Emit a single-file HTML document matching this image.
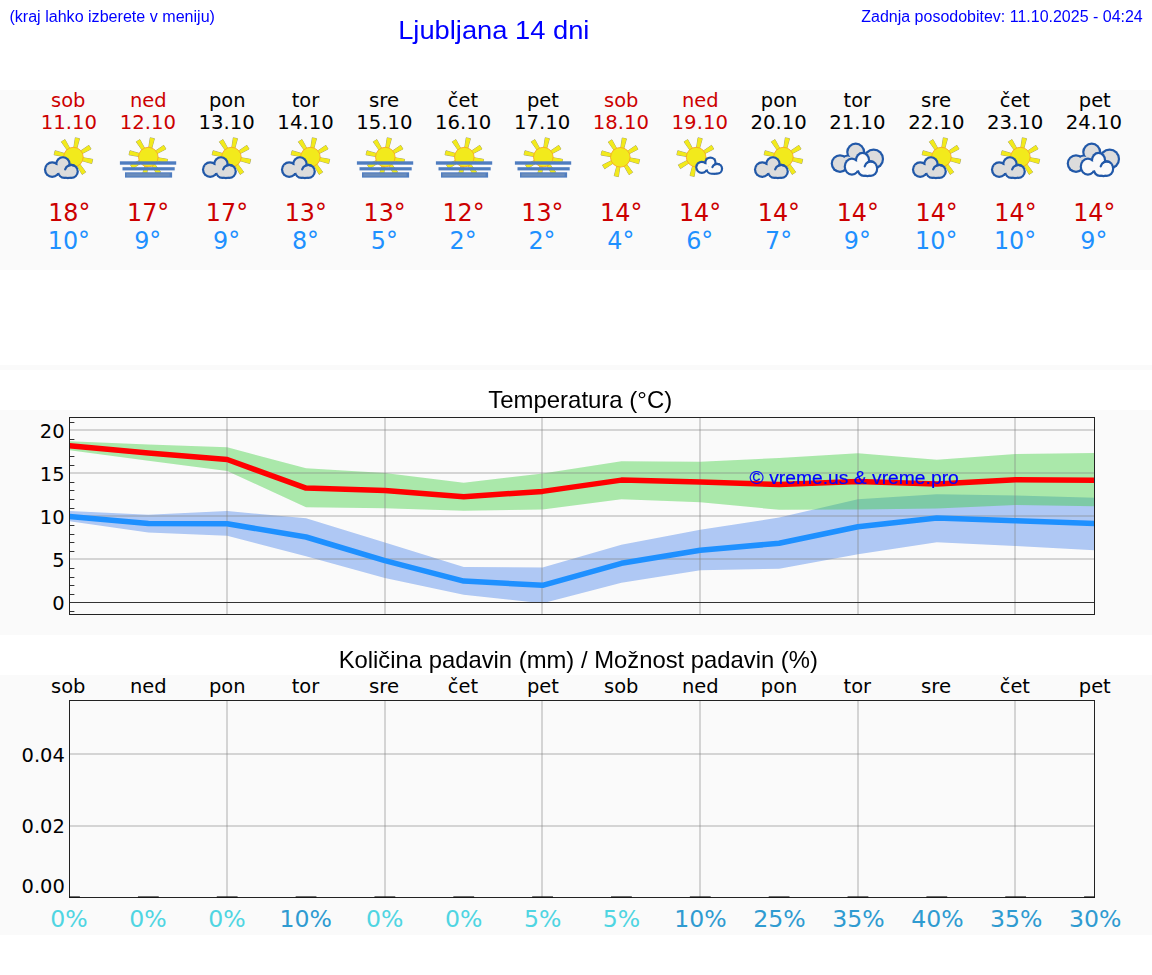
<!DOCTYPE html>
<html lang="sl">
<head>
<meta charset="utf-8">
<title>Ljubljana 14 dni</title>
<style>
html,body{margin:0;padding:0;background:#fff;}
body{width:1152px;height:975px;overflow:hidden;font-family:"Liberation Sans",sans-serif;}
svg{display:block;position:absolute;left:0;top:0;}
.dv{font-family:"DejaVu Sans","Liberation Sans",sans-serif;}
.dn{font-size:19.44px;}
.dt{font-size:18.76px;}
.tp{font-size:24.7px;}
.ax{font-size:18.76px;}
.pc{font-size:23.6px;}
</style>
</head>
<body>
<svg width="1152" height="975" viewBox="0 0 1152 975">
<rect x="0" y="90" width="1152" height="180" fill="#fafafa"/>
<rect x="0" y="365" width="1152" height="5" fill="#fafafa"/>
<rect x="0" y="410" width="1152" height="225" fill="#fafafa"/>
<rect x="0" y="675" width="1152" height="260" fill="#fafafa"/>
<g class="dv">
<text class="dn" x="51.02" y="107.00" fill="#cc0000" textLength="34.36" lengthAdjust="spacingAndGlyphs">sob</text>
<text class="dt" x="40.84" y="128.90" fill="#cc0000" textLength="56.32" lengthAdjust="spacingAndGlyphs">11.10</text>
<text class="tp" x="48.18" y="220.80" fill="#cc0000" textLength="42.25" lengthAdjust="spacingAndGlyphs">18°</text>
<text class="tp" x="47.78" y="249.00" fill="#1e90ff" textLength="42.25" lengthAdjust="spacingAndGlyphs">10°</text>
<text class="dn" x="130.04" y="107.00" fill="#cc0000" textLength="36.62" lengthAdjust="spacingAndGlyphs">ned</text>
<text class="dt" x="119.69" y="128.90" fill="#cc0000" textLength="56.32" lengthAdjust="spacingAndGlyphs">12.10</text>
<text class="tp" x="127.02" y="220.80" fill="#cc0000" textLength="42.25" lengthAdjust="spacingAndGlyphs">17°</text>
<text class="tp" x="134.20" y="249.00" fill="#1e90ff" textLength="27.08" lengthAdjust="spacingAndGlyphs">9°</text>
<text class="dn" x="208.92" y="107.00" fill="#000" textLength="36.55" lengthAdjust="spacingAndGlyphs">pon</text>
<text class="dt" x="198.53" y="128.90" fill="#000" textLength="56.32" lengthAdjust="spacingAndGlyphs">13.10</text>
<text class="tp" x="205.87" y="220.80" fill="#cc0000" textLength="42.25" lengthAdjust="spacingAndGlyphs">17°</text>
<text class="tp" x="213.05" y="249.00" fill="#1e90ff" textLength="27.08" lengthAdjust="spacingAndGlyphs">9°</text>
<text class="dn" x="291.68" y="107.00" fill="#000" textLength="27.51" lengthAdjust="spacingAndGlyphs">tor</text>
<text class="dt" x="277.38" y="128.90" fill="#000" textLength="56.32" lengthAdjust="spacingAndGlyphs">14.10</text>
<text class="tp" x="284.71" y="220.80" fill="#cc0000" textLength="42.25" lengthAdjust="spacingAndGlyphs">13°</text>
<text class="tp" x="291.90" y="249.00" fill="#1e90ff" textLength="27.08" lengthAdjust="spacingAndGlyphs">8°</text>
<text class="dn" x="369.06" y="107.00" fill="#000" textLength="30.08" lengthAdjust="spacingAndGlyphs">sre</text>
<text class="dt" x="356.22" y="128.90" fill="#000" textLength="56.32" lengthAdjust="spacingAndGlyphs">15.10</text>
<text class="tp" x="363.56" y="220.80" fill="#cc0000" textLength="42.25" lengthAdjust="spacingAndGlyphs">13°</text>
<text class="tp" x="370.74" y="249.00" fill="#1e90ff" textLength="27.08" lengthAdjust="spacingAndGlyphs">5°</text>
<text class="dn" x="447.80" y="107.00" fill="#000" textLength="30.27" lengthAdjust="spacingAndGlyphs">čet</text>
<text class="dt" x="435.07" y="128.90" fill="#000" textLength="56.32" lengthAdjust="spacingAndGlyphs">16.10</text>
<text class="tp" x="442.41" y="220.80" fill="#cc0000" textLength="42.25" lengthAdjust="spacingAndGlyphs">12°</text>
<text class="tp" x="449.59" y="249.00" fill="#1e90ff" textLength="27.08" lengthAdjust="spacingAndGlyphs">2°</text>
<text class="dn" x="526.92" y="107.00" fill="#000" textLength="31.92" lengthAdjust="spacingAndGlyphs">pet</text>
<text class="dt" x="513.92" y="128.90" fill="#000" textLength="56.32" lengthAdjust="spacingAndGlyphs">17.10</text>
<text class="tp" x="521.25" y="220.80" fill="#cc0000" textLength="42.25" lengthAdjust="spacingAndGlyphs">13°</text>
<text class="tp" x="528.44" y="249.00" fill="#1e90ff" textLength="27.08" lengthAdjust="spacingAndGlyphs">2°</text>
<text class="dn" x="604.04" y="107.00" fill="#cc0000" textLength="34.36" lengthAdjust="spacingAndGlyphs">sob</text>
<text class="dt" x="592.76" y="128.90" fill="#cc0000" textLength="56.32" lengthAdjust="spacingAndGlyphs">18.10</text>
<text class="tp" x="600.10" y="220.80" fill="#cc0000" textLength="42.25" lengthAdjust="spacingAndGlyphs">14°</text>
<text class="tp" x="607.28" y="249.00" fill="#1e90ff" textLength="27.08" lengthAdjust="spacingAndGlyphs">4°</text>
<text class="dn" x="681.96" y="107.00" fill="#cc0000" textLength="36.62" lengthAdjust="spacingAndGlyphs">ned</text>
<text class="dt" x="671.61" y="128.90" fill="#cc0000" textLength="56.32" lengthAdjust="spacingAndGlyphs">19.10</text>
<text class="tp" x="678.95" y="220.80" fill="#cc0000" textLength="42.25" lengthAdjust="spacingAndGlyphs">14°</text>
<text class="tp" x="686.13" y="249.00" fill="#1e90ff" textLength="27.08" lengthAdjust="spacingAndGlyphs">6°</text>
<text class="dn" x="760.84" y="107.00" fill="#000" textLength="36.55" lengthAdjust="spacingAndGlyphs">pon</text>
<text class="dt" x="750.46" y="128.90" fill="#000" textLength="56.32" lengthAdjust="spacingAndGlyphs">20.10</text>
<text class="tp" x="757.79" y="220.80" fill="#cc0000" textLength="42.25" lengthAdjust="spacingAndGlyphs">14°</text>
<text class="tp" x="764.97" y="249.00" fill="#1e90ff" textLength="27.08" lengthAdjust="spacingAndGlyphs">7°</text>
<text class="dn" x="843.61" y="107.00" fill="#000" textLength="27.51" lengthAdjust="spacingAndGlyphs">tor</text>
<text class="dt" x="829.30" y="128.90" fill="#000" textLength="56.32" lengthAdjust="spacingAndGlyphs">21.10</text>
<text class="tp" x="836.64" y="220.80" fill="#cc0000" textLength="42.25" lengthAdjust="spacingAndGlyphs">14°</text>
<text class="tp" x="843.82" y="249.00" fill="#1e90ff" textLength="27.08" lengthAdjust="spacingAndGlyphs">9°</text>
<text class="dn" x="920.98" y="107.00" fill="#000" textLength="30.08" lengthAdjust="spacingAndGlyphs">sre</text>
<text class="dt" x="908.15" y="128.90" fill="#000" textLength="56.32" lengthAdjust="spacingAndGlyphs">22.10</text>
<text class="tp" x="915.48" y="220.80" fill="#cc0000" textLength="42.25" lengthAdjust="spacingAndGlyphs">14°</text>
<text class="tp" x="915.08" y="249.00" fill="#1e90ff" textLength="42.25" lengthAdjust="spacingAndGlyphs">10°</text>
<text class="dn" x="999.72" y="107.00" fill="#000" textLength="30.27" lengthAdjust="spacingAndGlyphs">čet</text>
<text class="dt" x="986.99" y="128.90" fill="#000" textLength="56.32" lengthAdjust="spacingAndGlyphs">23.10</text>
<text class="tp" x="994.33" y="220.80" fill="#cc0000" textLength="42.25" lengthAdjust="spacingAndGlyphs">14°</text>
<text class="tp" x="993.93" y="249.00" fill="#1e90ff" textLength="42.25" lengthAdjust="spacingAndGlyphs">10°</text>
<text class="dn" x="1078.84" y="107.00" fill="#000" textLength="31.92" lengthAdjust="spacingAndGlyphs">pet</text>
<text class="dt" x="1065.84" y="128.90" fill="#000" textLength="56.32" lengthAdjust="spacingAndGlyphs">24.10</text>
<text class="tp" x="1073.18" y="220.80" fill="#cc0000" textLength="42.25" lengthAdjust="spacingAndGlyphs">14°</text>
<text class="tp" x="1080.36" y="249.00" fill="#1e90ff" textLength="27.08" lengthAdjust="spacingAndGlyphs">9°</text>
</g>
<path d="M76.79 148.62L79.52 138.67L75.31 137.77L73.76 147.97ZM81.91 153.79L91.05 149.00L88.84 145.32L80.32 151.14ZM81.82 160.63L91.72 163.54L92.69 159.35L82.52 157.61ZM77.00 165.49L82.11 174.46L85.71 172.12L79.60 163.80ZM70.01 165.58L67.28 175.53L71.49 176.43L73.04 166.23ZM64.83 160.26L55.61 164.89L57.76 168.61L66.38 162.94ZM64.98 153.57L55.08 150.66L54.11 154.85L64.28 156.59ZM69.95 148.65L65.00 139.59L61.35 141.87L67.32 150.29Z" fill="#f2ea1c" stroke="#8f8d6a" stroke-opacity="0.75" stroke-width="1.0" stroke-linejoin="round"/><path d="M76.79 148.62L79.52 138.67L75.31 137.77L73.76 147.97ZM81.91 153.79L91.05 149.00L88.84 145.32L80.32 151.14ZM81.82 160.63L91.72 163.54L92.69 159.35L82.52 157.61ZM77.00 165.49L82.11 174.46L85.71 172.12L79.60 163.80ZM70.01 165.58L67.28 175.53L71.49 176.43L73.04 166.23ZM64.83 160.26L55.61 164.89L57.76 168.61L66.38 162.94ZM64.98 153.57L55.08 150.66L54.11 154.85L64.28 156.59ZM69.95 148.65L65.00 139.59L61.35 141.87L67.32 150.29Z" fill="#f2ea1c"/><circle cx="73.40" cy="157.10" r="9.8" fill="#f2ea1c" stroke="#f7a823" stroke-width="0.9"/><ellipse cx="52.21" cy="169.60" rx="8.28" ry="8.28" fill="#2158a8"/><ellipse cx="62.95" cy="163.85" rx="7.71" ry="7.71" fill="#2158a8"/><ellipse cx="71.28" cy="171.40" rx="7.55" ry="7.55" fill="#2158a8"/><ellipse cx="64.39" cy="171.61" rx="7.42" ry="7.42" fill="#2158a8"/><ellipse cx="67.90" cy="172.10" rx="7.10" ry="7.10" fill="#2158a8"/><ellipse cx="57.50" cy="169.10" rx="6.10" ry="6.10" fill="#2158a8"/><ellipse cx="52.21" cy="169.60" rx="6.08" ry="6.08" fill="#dcdcdc"/><ellipse cx="62.95" cy="163.85" rx="5.51" ry="5.51" fill="#dcdcdc"/><ellipse cx="71.28" cy="171.40" rx="5.35" ry="5.35" fill="#dcdcdc"/><ellipse cx="64.39" cy="171.61" rx="5.22" ry="5.22" fill="#dcdcdc"/><ellipse cx="67.90" cy="172.10" rx="4.90" ry="4.90" fill="#dcdcdc"/><ellipse cx="57.50" cy="169.10" rx="3.90" ry="3.90" fill="#dcdcdc"/><path d="M73.70 165.42A6.45 6.45 0 0 0 65.15 169.41" fill="none" stroke="#2158a8" stroke-width="2.20" stroke-linecap="round"/>
<path d="M151.69 148.62L154.42 138.67L150.21 137.77L148.66 147.97ZM156.81 153.79L165.95 149.00L163.74 145.32L155.22 151.14ZM156.72 160.63L166.62 163.54L167.59 159.35L157.42 157.61ZM151.90 165.49L157.01 174.46L160.61 172.12L154.50 163.80ZM144.91 165.58L142.18 175.53L146.39 176.43L147.94 166.23ZM139.73 160.26L130.51 164.89L132.66 168.61L141.28 162.94ZM139.88 153.57L129.98 150.66L129.01 154.85L139.18 156.59ZM144.85 148.65L139.90 139.59L136.25 141.87L142.22 150.29Z" fill="#f2ea1c" stroke="#8f8d6a" stroke-opacity="0.75" stroke-width="1.0" stroke-linejoin="round"/><path d="M151.69 148.62L154.42 138.67L150.21 137.77L148.66 147.97ZM156.81 153.79L165.95 149.00L163.74 145.32L155.22 151.14ZM156.72 160.63L166.62 163.54L167.59 159.35L157.42 157.61ZM151.90 165.49L157.01 174.46L160.61 172.12L154.50 163.80ZM144.91 165.58L142.18 175.53L146.39 176.43L147.94 166.23ZM139.73 160.26L130.51 164.89L132.66 168.61L141.28 162.94ZM139.88 153.57L129.98 150.66L129.01 154.85L139.18 156.59ZM144.85 148.65L139.90 139.59L136.25 141.87L142.22 150.29Z" fill="#f2ea1c"/><circle cx="148.30" cy="157.10" r="9.8" fill="#f2ea1c" stroke="#f7a823" stroke-width="0.9"/><rect x="119.90" y="161.30" width="56.30" height="3.40" fill="#4f7dc0"/><rect x="122.50" y="167.20" width="52.20" height="3.20" fill="#4f7dc0"/><rect x="125.00" y="172.30" width="47.10" height="5.30" fill="#4f7dc0"/><rect x="126.45" y="173.40" width="43.20" height="3.00" fill="#6a8cbb"/>
<path d="M234.79 148.62L237.52 138.67L233.31 137.77L231.76 147.97ZM239.91 153.79L249.05 149.00L246.84 145.32L238.32 151.14ZM239.82 160.63L249.72 163.54L250.69 159.35L240.52 157.61ZM235.00 165.49L240.11 174.46L243.71 172.12L237.60 163.80ZM228.01 165.58L225.28 175.53L229.49 176.43L231.04 166.23ZM222.83 160.26L213.61 164.89L215.76 168.61L224.38 162.94ZM222.98 153.57L213.08 150.66L212.11 154.85L222.28 156.59ZM227.95 148.65L223.00 139.59L219.35 141.87L225.32 150.29Z" fill="#f2ea1c" stroke="#8f8d6a" stroke-opacity="0.75" stroke-width="1.0" stroke-linejoin="round"/><path d="M234.79 148.62L237.52 138.67L233.31 137.77L231.76 147.97ZM239.91 153.79L249.05 149.00L246.84 145.32L238.32 151.14ZM239.82 160.63L249.72 163.54L250.69 159.35L240.52 157.61ZM235.00 165.49L240.11 174.46L243.71 172.12L237.60 163.80ZM228.01 165.58L225.28 175.53L229.49 176.43L231.04 166.23ZM222.83 160.26L213.61 164.89L215.76 168.61L224.38 162.94ZM222.98 153.57L213.08 150.66L212.11 154.85L222.28 156.59ZM227.95 148.65L223.00 139.59L219.35 141.87L225.32 150.29Z" fill="#f2ea1c"/><circle cx="231.40" cy="157.10" r="9.8" fill="#f2ea1c" stroke="#f7a823" stroke-width="0.9"/><ellipse cx="210.21" cy="169.60" rx="8.28" ry="8.28" fill="#2158a8"/><ellipse cx="220.95" cy="163.85" rx="7.71" ry="7.71" fill="#2158a8"/><ellipse cx="229.28" cy="171.40" rx="7.55" ry="7.55" fill="#2158a8"/><ellipse cx="222.39" cy="171.61" rx="7.42" ry="7.42" fill="#2158a8"/><ellipse cx="225.90" cy="172.10" rx="7.10" ry="7.10" fill="#2158a8"/><ellipse cx="215.50" cy="169.10" rx="6.10" ry="6.10" fill="#2158a8"/><ellipse cx="210.21" cy="169.60" rx="6.08" ry="6.08" fill="#dcdcdc"/><ellipse cx="220.95" cy="163.85" rx="5.51" ry="5.51" fill="#dcdcdc"/><ellipse cx="229.28" cy="171.40" rx="5.35" ry="5.35" fill="#dcdcdc"/><ellipse cx="222.39" cy="171.61" rx="5.22" ry="5.22" fill="#dcdcdc"/><ellipse cx="225.90" cy="172.10" rx="4.90" ry="4.90" fill="#dcdcdc"/><ellipse cx="215.50" cy="169.10" rx="3.90" ry="3.90" fill="#dcdcdc"/><path d="M231.70 165.42A6.45 6.45 0 0 0 223.15 169.41" fill="none" stroke="#2158a8" stroke-width="2.20" stroke-linecap="round"/>
<path d="M313.79 148.62L316.52 138.67L312.31 137.77L310.76 147.97ZM318.91 153.79L328.05 149.00L325.84 145.32L317.32 151.14ZM318.82 160.63L328.72 163.54L329.69 159.35L319.52 157.61ZM314.00 165.49L319.11 174.46L322.71 172.12L316.60 163.80ZM307.01 165.58L304.28 175.53L308.49 176.43L310.04 166.23ZM301.83 160.26L292.61 164.89L294.76 168.61L303.38 162.94ZM301.98 153.57L292.08 150.66L291.11 154.85L301.28 156.59ZM306.95 148.65L302.00 139.59L298.35 141.87L304.32 150.29Z" fill="#f2ea1c" stroke="#8f8d6a" stroke-opacity="0.75" stroke-width="1.0" stroke-linejoin="round"/><path d="M313.79 148.62L316.52 138.67L312.31 137.77L310.76 147.97ZM318.91 153.79L328.05 149.00L325.84 145.32L317.32 151.14ZM318.82 160.63L328.72 163.54L329.69 159.35L319.52 157.61ZM314.00 165.49L319.11 174.46L322.71 172.12L316.60 163.80ZM307.01 165.58L304.28 175.53L308.49 176.43L310.04 166.23ZM301.83 160.26L292.61 164.89L294.76 168.61L303.38 162.94ZM301.98 153.57L292.08 150.66L291.11 154.85L301.28 156.59ZM306.95 148.65L302.00 139.59L298.35 141.87L304.32 150.29Z" fill="#f2ea1c"/><circle cx="310.40" cy="157.10" r="9.8" fill="#f2ea1c" stroke="#f7a823" stroke-width="0.9"/><ellipse cx="289.21" cy="169.60" rx="8.28" ry="8.28" fill="#2158a8"/><ellipse cx="299.95" cy="163.85" rx="7.71" ry="7.71" fill="#2158a8"/><ellipse cx="308.28" cy="171.40" rx="7.55" ry="7.55" fill="#2158a8"/><ellipse cx="301.39" cy="171.61" rx="7.42" ry="7.42" fill="#2158a8"/><ellipse cx="304.90" cy="172.10" rx="7.10" ry="7.10" fill="#2158a8"/><ellipse cx="294.50" cy="169.10" rx="6.10" ry="6.10" fill="#2158a8"/><ellipse cx="289.21" cy="169.60" rx="6.08" ry="6.08" fill="#dcdcdc"/><ellipse cx="299.95" cy="163.85" rx="5.51" ry="5.51" fill="#dcdcdc"/><ellipse cx="308.28" cy="171.40" rx="5.35" ry="5.35" fill="#dcdcdc"/><ellipse cx="301.39" cy="171.61" rx="5.22" ry="5.22" fill="#dcdcdc"/><ellipse cx="304.90" cy="172.10" rx="4.90" ry="4.90" fill="#dcdcdc"/><ellipse cx="294.50" cy="169.10" rx="3.90" ry="3.90" fill="#dcdcdc"/><path d="M310.70 165.42A6.45 6.45 0 0 0 302.15 169.41" fill="none" stroke="#2158a8" stroke-width="2.20" stroke-linecap="round"/>
<path d="M388.69 148.62L391.42 138.67L387.21 137.77L385.66 147.97ZM393.81 153.79L402.95 149.00L400.74 145.32L392.22 151.14ZM393.72 160.63L403.62 163.54L404.59 159.35L394.42 157.61ZM388.90 165.49L394.01 174.46L397.61 172.12L391.50 163.80ZM381.91 165.58L379.18 175.53L383.39 176.43L384.94 166.23ZM376.73 160.26L367.51 164.89L369.66 168.61L378.28 162.94ZM376.88 153.57L366.98 150.66L366.01 154.85L376.18 156.59ZM381.85 148.65L376.90 139.59L373.25 141.87L379.22 150.29Z" fill="#f2ea1c" stroke="#8f8d6a" stroke-opacity="0.75" stroke-width="1.0" stroke-linejoin="round"/><path d="M388.69 148.62L391.42 138.67L387.21 137.77L385.66 147.97ZM393.81 153.79L402.95 149.00L400.74 145.32L392.22 151.14ZM393.72 160.63L403.62 163.54L404.59 159.35L394.42 157.61ZM388.90 165.49L394.01 174.46L397.61 172.12L391.50 163.80ZM381.91 165.58L379.18 175.53L383.39 176.43L384.94 166.23ZM376.73 160.26L367.51 164.89L369.66 168.61L378.28 162.94ZM376.88 153.57L366.98 150.66L366.01 154.85L376.18 156.59ZM381.85 148.65L376.90 139.59L373.25 141.87L379.22 150.29Z" fill="#f2ea1c"/><circle cx="385.30" cy="157.10" r="9.8" fill="#f2ea1c" stroke="#f7a823" stroke-width="0.9"/><rect x="356.90" y="161.30" width="56.30" height="3.40" fill="#4f7dc0"/><rect x="359.50" y="167.20" width="52.20" height="3.20" fill="#4f7dc0"/><rect x="362.00" y="172.30" width="47.10" height="5.30" fill="#4f7dc0"/><rect x="363.45" y="173.40" width="43.20" height="3.00" fill="#6a8cbb"/>
<path d="M467.69 148.62L470.42 138.67L466.21 137.77L464.66 147.97ZM472.81 153.79L481.95 149.00L479.74 145.32L471.22 151.14ZM472.72 160.63L482.62 163.54L483.59 159.35L473.42 157.61ZM467.90 165.49L473.01 174.46L476.61 172.12L470.50 163.80ZM460.91 165.58L458.18 175.53L462.39 176.43L463.94 166.23ZM455.73 160.26L446.51 164.89L448.66 168.61L457.28 162.94ZM455.88 153.57L445.98 150.66L445.01 154.85L455.18 156.59ZM460.85 148.65L455.90 139.59L452.25 141.87L458.22 150.29Z" fill="#f2ea1c" stroke="#8f8d6a" stroke-opacity="0.75" stroke-width="1.0" stroke-linejoin="round"/><path d="M467.69 148.62L470.42 138.67L466.21 137.77L464.66 147.97ZM472.81 153.79L481.95 149.00L479.74 145.32L471.22 151.14ZM472.72 160.63L482.62 163.54L483.59 159.35L473.42 157.61ZM467.90 165.49L473.01 174.46L476.61 172.12L470.50 163.80ZM460.91 165.58L458.18 175.53L462.39 176.43L463.94 166.23ZM455.73 160.26L446.51 164.89L448.66 168.61L457.28 162.94ZM455.88 153.57L445.98 150.66L445.01 154.85L455.18 156.59ZM460.85 148.65L455.90 139.59L452.25 141.87L458.22 150.29Z" fill="#f2ea1c"/><circle cx="464.30" cy="157.10" r="9.8" fill="#f2ea1c" stroke="#f7a823" stroke-width="0.9"/><rect x="435.90" y="161.30" width="56.30" height="3.40" fill="#4f7dc0"/><rect x="438.50" y="167.20" width="52.20" height="3.20" fill="#4f7dc0"/><rect x="441.00" y="172.30" width="47.10" height="5.30" fill="#4f7dc0"/><rect x="442.45" y="173.40" width="43.20" height="3.00" fill="#6a8cbb"/>
<path d="M546.69 148.62L549.42 138.67L545.21 137.77L543.66 147.97ZM551.81 153.79L560.95 149.00L558.74 145.32L550.22 151.14ZM551.72 160.63L561.62 163.54L562.59 159.35L552.42 157.61ZM546.90 165.49L552.01 174.46L555.61 172.12L549.50 163.80ZM539.91 165.58L537.18 175.53L541.39 176.43L542.94 166.23ZM534.73 160.26L525.51 164.89L527.66 168.61L536.28 162.94ZM534.88 153.57L524.98 150.66L524.01 154.85L534.18 156.59ZM539.85 148.65L534.90 139.59L531.25 141.87L537.22 150.29Z" fill="#f2ea1c" stroke="#8f8d6a" stroke-opacity="0.75" stroke-width="1.0" stroke-linejoin="round"/><path d="M546.69 148.62L549.42 138.67L545.21 137.77L543.66 147.97ZM551.81 153.79L560.95 149.00L558.74 145.32L550.22 151.14ZM551.72 160.63L561.62 163.54L562.59 159.35L552.42 157.61ZM546.90 165.49L552.01 174.46L555.61 172.12L549.50 163.80ZM539.91 165.58L537.18 175.53L541.39 176.43L542.94 166.23ZM534.73 160.26L525.51 164.89L527.66 168.61L536.28 162.94ZM534.88 153.57L524.98 150.66L524.01 154.85L534.18 156.59ZM539.85 148.65L534.90 139.59L531.25 141.87L537.22 150.29Z" fill="#f2ea1c"/><circle cx="543.30" cy="157.10" r="9.8" fill="#f2ea1c" stroke="#f7a823" stroke-width="0.9"/><rect x="514.90" y="161.30" width="56.30" height="3.40" fill="#4f7dc0"/><rect x="517.50" y="167.20" width="52.20" height="3.20" fill="#4f7dc0"/><rect x="520.00" y="172.30" width="47.10" height="5.30" fill="#4f7dc0"/><rect x="521.45" y="173.40" width="43.20" height="3.00" fill="#6a8cbb"/>
<path d="M623.71 148.82L626.44 138.87L622.23 137.97L620.68 148.17ZM628.83 153.99L637.97 149.20L635.76 145.52L627.24 151.34ZM628.74 160.83L638.64 163.74L639.61 159.55L629.44 157.81ZM623.92 165.69L629.03 174.66L632.63 172.32L626.52 164.00ZM616.93 165.78L614.20 175.73L618.41 176.63L619.96 166.43ZM611.75 160.46L602.53 165.09L604.68 168.81L613.30 163.14ZM611.90 153.77L602.00 150.86L601.03 155.05L611.20 156.79ZM616.87 148.85L611.92 139.79L608.27 142.07L614.24 150.49Z" fill="#f2ea1c" stroke="#8f8d6a" stroke-opacity="0.75" stroke-width="1.0" stroke-linejoin="round"/><path d="M623.71 148.82L626.44 138.87L622.23 137.97L620.68 148.17ZM628.83 153.99L637.97 149.20L635.76 145.52L627.24 151.34ZM628.74 160.83L638.64 163.74L639.61 159.55L629.44 157.81ZM623.92 165.69L629.03 174.66L632.63 172.32L626.52 164.00ZM616.93 165.78L614.20 175.73L618.41 176.63L619.96 166.43ZM611.75 160.46L602.53 165.09L604.68 168.81L613.30 163.14ZM611.90 153.77L602.00 150.86L601.03 155.05L611.20 156.79ZM616.87 148.85L611.92 139.79L608.27 142.07L614.24 150.49Z" fill="#f2ea1c"/><circle cx="620.32" cy="157.30" r="9.8" fill="#f2ea1c" stroke="#f7a823" stroke-width="0.9"/>
<path d="M699.51 148.62L702.24 138.67L698.03 137.77L696.48 147.97ZM704.63 153.79L713.77 149.00L711.56 145.32L703.04 151.14ZM704.54 160.63L714.44 163.54L715.41 159.35L705.24 157.61ZM692.73 165.58L690.00 175.53L694.21 176.43L695.76 166.23ZM687.55 160.26L678.33 164.89L680.48 168.61L689.10 162.94ZM687.70 153.57L677.80 150.66L676.83 154.85L687.00 156.59ZM692.67 148.65L687.72 139.59L684.07 141.87L690.04 150.29Z" fill="#f2ea1c" stroke="#8f8d6a" stroke-opacity="0.75" stroke-width="1.0" stroke-linejoin="round"/><path d="M699.51 148.62L702.24 138.67L698.03 137.77L696.48 147.97ZM704.63 153.79L713.77 149.00L711.56 145.32L703.04 151.14ZM704.54 160.63L714.44 163.54L715.41 159.35L705.24 157.61ZM692.73 165.58L690.00 175.53L694.21 176.43L695.76 166.23ZM687.55 160.26L678.33 164.89L680.48 168.61L689.10 162.94ZM687.70 153.57L677.80 150.66L676.83 154.85L687.00 156.59ZM692.67 148.65L687.72 139.59L684.07 141.87L690.04 150.29Z" fill="#f2ea1c"/><circle cx="696.12" cy="157.10" r="9.8" fill="#f2ea1c" stroke="#f7a823" stroke-width="0.9"/><ellipse cx="701.84" cy="167.30" rx="6.62" ry="6.62" fill="#2158a8"/><ellipse cx="710.43" cy="162.70" rx="6.17" ry="6.17" fill="#2158a8"/><ellipse cx="717.09" cy="168.74" rx="6.04" ry="6.04" fill="#2158a8"/><ellipse cx="711.58" cy="168.91" rx="5.94" ry="5.94" fill="#2158a8"/><ellipse cx="714.39" cy="169.30" rx="5.68" ry="5.68" fill="#2158a8"/><ellipse cx="706.07" cy="166.90" rx="4.88" ry="4.88" fill="#2158a8"/><ellipse cx="701.84" cy="167.30" rx="4.42" ry="4.42" fill="#fafafa"/><ellipse cx="710.43" cy="162.70" rx="3.97" ry="3.97" fill="#fafafa"/><ellipse cx="717.09" cy="168.74" rx="3.84" ry="3.84" fill="#fafafa"/><ellipse cx="711.58" cy="168.91" rx="3.74" ry="3.74" fill="#fafafa"/><ellipse cx="714.39" cy="169.30" rx="3.48" ry="3.48" fill="#fafafa"/><ellipse cx="706.07" cy="166.90" rx="2.68" ry="2.68" fill="#fafafa"/><path d="M718.94 164.16A4.94 4.94 0 0 0 712.40 167.21" fill="none" stroke="#2158a8" stroke-width="2.20" stroke-linecap="round"/>
<path d="M786.79 148.62L789.52 138.67L785.31 137.77L783.76 147.97ZM791.91 153.79L801.05 149.00L798.84 145.32L790.32 151.14ZM791.82 160.63L801.72 163.54L802.69 159.35L792.52 157.61ZM787.00 165.49L792.11 174.46L795.71 172.12L789.60 163.80ZM780.01 165.58L777.28 175.53L781.49 176.43L783.04 166.23ZM774.83 160.26L765.61 164.89L767.76 168.61L776.38 162.94ZM774.98 153.57L765.08 150.66L764.11 154.85L774.28 156.59ZM779.95 148.65L775.00 139.59L771.35 141.87L777.32 150.29Z" fill="#f2ea1c" stroke="#8f8d6a" stroke-opacity="0.75" stroke-width="1.0" stroke-linejoin="round"/><path d="M786.79 148.62L789.52 138.67L785.31 137.77L783.76 147.97ZM791.91 153.79L801.05 149.00L798.84 145.32L790.32 151.14ZM791.82 160.63L801.72 163.54L802.69 159.35L792.52 157.61ZM787.00 165.49L792.11 174.46L795.71 172.12L789.60 163.80ZM780.01 165.58L777.28 175.53L781.49 176.43L783.04 166.23ZM774.83 160.26L765.61 164.89L767.76 168.61L776.38 162.94ZM774.98 153.57L765.08 150.66L764.11 154.85L774.28 156.59ZM779.95 148.65L775.00 139.59L771.35 141.87L777.32 150.29Z" fill="#f2ea1c"/><circle cx="783.40" cy="157.10" r="9.8" fill="#f2ea1c" stroke="#f7a823" stroke-width="0.9"/><ellipse cx="762.21" cy="169.60" rx="8.28" ry="8.28" fill="#2158a8"/><ellipse cx="772.95" cy="163.85" rx="7.71" ry="7.71" fill="#2158a8"/><ellipse cx="781.28" cy="171.40" rx="7.55" ry="7.55" fill="#2158a8"/><ellipse cx="774.39" cy="171.61" rx="7.42" ry="7.42" fill="#2158a8"/><ellipse cx="777.90" cy="172.10" rx="7.10" ry="7.10" fill="#2158a8"/><ellipse cx="767.50" cy="169.10" rx="6.10" ry="6.10" fill="#2158a8"/><ellipse cx="762.21" cy="169.60" rx="6.08" ry="6.08" fill="#dcdcdc"/><ellipse cx="772.95" cy="163.85" rx="5.51" ry="5.51" fill="#dcdcdc"/><ellipse cx="781.28" cy="171.40" rx="5.35" ry="5.35" fill="#dcdcdc"/><ellipse cx="774.39" cy="171.61" rx="5.22" ry="5.22" fill="#dcdcdc"/><ellipse cx="777.90" cy="172.10" rx="4.90" ry="4.90" fill="#dcdcdc"/><ellipse cx="767.50" cy="169.10" rx="3.90" ry="3.90" fill="#dcdcdc"/><path d="M783.70 165.42A6.45 6.45 0 0 0 775.15 169.41" fill="none" stroke="#2158a8" stroke-width="2.20" stroke-linecap="round"/>
<ellipse cx="840.02" cy="163.60" rx="9.30" ry="9.30" fill="#2158a8"/><ellipse cx="855.70" cy="152.10" rx="9.50" ry="9.50" fill="#2158a8"/><ellipse cx="873.62" cy="159.00" rx="10.45" ry="10.45" fill="#2158a8"/><ellipse cx="855.96" cy="163.00" rx="9.10" ry="9.10" fill="#2158a8"/><ellipse cx="865.96" cy="163.00" rx="9.10" ry="9.10" fill="#2158a8"/><ellipse cx="847.96" cy="163.00" rx="8.60" ry="8.60" fill="#2158a8"/><ellipse cx="840.02" cy="163.60" rx="7.10" ry="7.10" fill="#dcdcdc"/><ellipse cx="855.70" cy="152.10" rx="7.30" ry="7.30" fill="#dcdcdc"/><ellipse cx="873.62" cy="159.00" rx="8.25" ry="8.25" fill="#dcdcdc"/><ellipse cx="855.96" cy="163.00" rx="6.90" ry="6.90" fill="#dcdcdc"/><ellipse cx="865.96" cy="163.00" rx="6.90" ry="6.90" fill="#dcdcdc"/><ellipse cx="847.96" cy="163.00" rx="6.40" ry="6.40" fill="#dcdcdc"/><ellipse cx="851.89" cy="166.65" rx="8.20" ry="9.11" fill="#2158a8"/><ellipse cx="862.52" cy="160.33" rx="7.63" ry="8.48" fill="#2158a8"/><ellipse cx="870.77" cy="168.63" rx="7.47" ry="8.31" fill="#2158a8"/><ellipse cx="863.95" cy="168.86" rx="7.35" ry="8.16" fill="#2158a8"/><ellipse cx="867.42" cy="169.40" rx="7.03" ry="7.81" fill="#2158a8"/><ellipse cx="857.12" cy="166.10" rx="6.04" ry="6.71" fill="#2158a8"/><ellipse cx="851.89" cy="166.65" rx="6.00" ry="6.91" fill="#fafafa"/><ellipse cx="862.52" cy="160.33" rx="5.43" ry="6.28" fill="#fafafa"/><ellipse cx="870.77" cy="168.63" rx="5.27" ry="6.11" fill="#fafafa"/><ellipse cx="863.95" cy="168.86" rx="5.15" ry="5.96" fill="#fafafa"/><ellipse cx="867.42" cy="169.40" rx="4.83" ry="5.61" fill="#fafafa"/><ellipse cx="857.12" cy="166.10" rx="3.84" ry="4.51" fill="#fafafa"/><path d="M873.16 161.95A6.37 7.21 0 0 0 864.70 166.40" fill="none" stroke="#2158a8" stroke-width="2.20" stroke-linecap="round"/>
<path d="M944.79 148.62L947.52 138.67L943.31 137.77L941.76 147.97ZM949.91 153.79L959.05 149.00L956.84 145.32L948.32 151.14ZM949.82 160.63L959.72 163.54L960.69 159.35L950.52 157.61ZM945.00 165.49L950.11 174.46L953.71 172.12L947.60 163.80ZM938.01 165.58L935.28 175.53L939.49 176.43L941.04 166.23ZM932.83 160.26L923.61 164.89L925.76 168.61L934.38 162.94ZM932.98 153.57L923.08 150.66L922.11 154.85L932.28 156.59ZM937.95 148.65L933.00 139.59L929.35 141.87L935.32 150.29Z" fill="#f2ea1c" stroke="#8f8d6a" stroke-opacity="0.75" stroke-width="1.0" stroke-linejoin="round"/><path d="M944.79 148.62L947.52 138.67L943.31 137.77L941.76 147.97ZM949.91 153.79L959.05 149.00L956.84 145.32L948.32 151.14ZM949.82 160.63L959.72 163.54L960.69 159.35L950.52 157.61ZM945.00 165.49L950.11 174.46L953.71 172.12L947.60 163.80ZM938.01 165.58L935.28 175.53L939.49 176.43L941.04 166.23ZM932.83 160.26L923.61 164.89L925.76 168.61L934.38 162.94ZM932.98 153.57L923.08 150.66L922.11 154.85L932.28 156.59ZM937.95 148.65L933.00 139.59L929.35 141.87L935.32 150.29Z" fill="#f2ea1c"/><circle cx="941.40" cy="157.10" r="9.8" fill="#f2ea1c" stroke="#f7a823" stroke-width="0.9"/><ellipse cx="920.21" cy="169.60" rx="8.28" ry="8.28" fill="#2158a8"/><ellipse cx="930.95" cy="163.85" rx="7.71" ry="7.71" fill="#2158a8"/><ellipse cx="939.28" cy="171.40" rx="7.55" ry="7.55" fill="#2158a8"/><ellipse cx="932.39" cy="171.61" rx="7.42" ry="7.42" fill="#2158a8"/><ellipse cx="935.90" cy="172.10" rx="7.10" ry="7.10" fill="#2158a8"/><ellipse cx="925.50" cy="169.10" rx="6.10" ry="6.10" fill="#2158a8"/><ellipse cx="920.21" cy="169.60" rx="6.08" ry="6.08" fill="#dcdcdc"/><ellipse cx="930.95" cy="163.85" rx="5.51" ry="5.51" fill="#dcdcdc"/><ellipse cx="939.28" cy="171.40" rx="5.35" ry="5.35" fill="#dcdcdc"/><ellipse cx="932.39" cy="171.61" rx="5.22" ry="5.22" fill="#dcdcdc"/><ellipse cx="935.90" cy="172.10" rx="4.90" ry="4.90" fill="#dcdcdc"/><ellipse cx="925.50" cy="169.10" rx="3.90" ry="3.90" fill="#dcdcdc"/><path d="M941.70 165.42A6.45 6.45 0 0 0 933.15 169.41" fill="none" stroke="#2158a8" stroke-width="2.20" stroke-linecap="round"/>
<path d="M1023.79 148.62L1026.52 138.67L1022.31 137.77L1020.76 147.97ZM1028.91 153.79L1038.05 149.00L1035.84 145.32L1027.32 151.14ZM1028.82 160.63L1038.72 163.54L1039.69 159.35L1029.52 157.61ZM1024.00 165.49L1029.11 174.46L1032.71 172.12L1026.60 163.80ZM1017.01 165.58L1014.28 175.53L1018.49 176.43L1020.04 166.23ZM1011.83 160.26L1002.61 164.89L1004.76 168.61L1013.38 162.94ZM1011.98 153.57L1002.08 150.66L1001.11 154.85L1011.28 156.59ZM1016.95 148.65L1012.00 139.59L1008.35 141.87L1014.32 150.29Z" fill="#f2ea1c" stroke="#8f8d6a" stroke-opacity="0.75" stroke-width="1.0" stroke-linejoin="round"/><path d="M1023.79 148.62L1026.52 138.67L1022.31 137.77L1020.76 147.97ZM1028.91 153.79L1038.05 149.00L1035.84 145.32L1027.32 151.14ZM1028.82 160.63L1038.72 163.54L1039.69 159.35L1029.52 157.61ZM1024.00 165.49L1029.11 174.46L1032.71 172.12L1026.60 163.80ZM1017.01 165.58L1014.28 175.53L1018.49 176.43L1020.04 166.23ZM1011.83 160.26L1002.61 164.89L1004.76 168.61L1013.38 162.94ZM1011.98 153.57L1002.08 150.66L1001.11 154.85L1011.28 156.59ZM1016.95 148.65L1012.00 139.59L1008.35 141.87L1014.32 150.29Z" fill="#f2ea1c"/><circle cx="1020.40" cy="157.10" r="9.8" fill="#f2ea1c" stroke="#f7a823" stroke-width="0.9"/><ellipse cx="999.21" cy="169.60" rx="8.28" ry="8.28" fill="#2158a8"/><ellipse cx="1009.95" cy="163.85" rx="7.71" ry="7.71" fill="#2158a8"/><ellipse cx="1018.28" cy="171.40" rx="7.55" ry="7.55" fill="#2158a8"/><ellipse cx="1011.39" cy="171.61" rx="7.42" ry="7.42" fill="#2158a8"/><ellipse cx="1014.90" cy="172.10" rx="7.10" ry="7.10" fill="#2158a8"/><ellipse cx="1004.50" cy="169.10" rx="6.10" ry="6.10" fill="#2158a8"/><ellipse cx="999.21" cy="169.60" rx="6.08" ry="6.08" fill="#dcdcdc"/><ellipse cx="1009.95" cy="163.85" rx="5.51" ry="5.51" fill="#dcdcdc"/><ellipse cx="1018.28" cy="171.40" rx="5.35" ry="5.35" fill="#dcdcdc"/><ellipse cx="1011.39" cy="171.61" rx="5.22" ry="5.22" fill="#dcdcdc"/><ellipse cx="1014.90" cy="172.10" rx="4.90" ry="4.90" fill="#dcdcdc"/><ellipse cx="1004.50" cy="169.10" rx="3.90" ry="3.90" fill="#dcdcdc"/><path d="M1020.70 165.42A6.45 6.45 0 0 0 1012.15 169.41" fill="none" stroke="#2158a8" stroke-width="2.20" stroke-linecap="round"/>
<ellipse cx="1076.02" cy="163.60" rx="9.30" ry="9.30" fill="#2158a8"/><ellipse cx="1091.70" cy="152.10" rx="9.50" ry="9.50" fill="#2158a8"/><ellipse cx="1109.62" cy="159.00" rx="10.45" ry="10.45" fill="#2158a8"/><ellipse cx="1091.96" cy="163.00" rx="9.10" ry="9.10" fill="#2158a8"/><ellipse cx="1101.96" cy="163.00" rx="9.10" ry="9.10" fill="#2158a8"/><ellipse cx="1083.96" cy="163.00" rx="8.60" ry="8.60" fill="#2158a8"/><ellipse cx="1076.02" cy="163.60" rx="7.10" ry="7.10" fill="#dcdcdc"/><ellipse cx="1091.70" cy="152.10" rx="7.30" ry="7.30" fill="#dcdcdc"/><ellipse cx="1109.62" cy="159.00" rx="8.25" ry="8.25" fill="#dcdcdc"/><ellipse cx="1091.96" cy="163.00" rx="6.90" ry="6.90" fill="#dcdcdc"/><ellipse cx="1101.96" cy="163.00" rx="6.90" ry="6.90" fill="#dcdcdc"/><ellipse cx="1083.96" cy="163.00" rx="6.40" ry="6.40" fill="#dcdcdc"/><ellipse cx="1087.89" cy="166.65" rx="8.20" ry="9.11" fill="#2158a8"/><ellipse cx="1098.52" cy="160.33" rx="7.63" ry="8.48" fill="#2158a8"/><ellipse cx="1106.77" cy="168.63" rx="7.47" ry="8.31" fill="#2158a8"/><ellipse cx="1099.95" cy="168.86" rx="7.35" ry="8.16" fill="#2158a8"/><ellipse cx="1103.42" cy="169.40" rx="7.03" ry="7.81" fill="#2158a8"/><ellipse cx="1093.12" cy="166.10" rx="6.04" ry="6.71" fill="#2158a8"/><ellipse cx="1087.89" cy="166.65" rx="6.00" ry="6.91" fill="#fafafa"/><ellipse cx="1098.52" cy="160.33" rx="5.43" ry="6.28" fill="#fafafa"/><ellipse cx="1106.77" cy="168.63" rx="5.27" ry="6.11" fill="#fafafa"/><ellipse cx="1099.95" cy="168.86" rx="5.15" ry="5.96" fill="#fafafa"/><ellipse cx="1103.42" cy="169.40" rx="4.83" ry="5.61" fill="#fafafa"/><ellipse cx="1093.12" cy="166.10" rx="3.84" ry="4.51" fill="#fafafa"/><path d="M1109.16 161.95A6.37 7.21 0 0 0 1100.70 166.40" fill="none" stroke="#2158a8" stroke-width="2.20" stroke-linecap="round"/>
<clipPath id="ct"><rect x="69.5" y="417.5" width="1025.0" height="197.0"/></clipPath>
<g clip-path="url(#ct)">
<polygon points="69.50,511.10 148.35,514.70 227.19,511.00 306.04,518.30 384.88,542.50 463.73,567.00 542.58,567.40 621.42,544.70 700.27,529.80 779.12,517.60 857.96,499.20 936.81,494.30 1015.65,495.50 1094.50,497.70 1094.50,550.20 1015.65,545.90 936.81,542.30 857.96,554.20 779.12,568.70 700.27,570.30 621.42,582.70 542.58,603.20 463.73,594.70 384.88,578.00 306.04,556.30 227.19,535.80 148.35,532.50 69.50,521.30" fill="#6495ed" fill-opacity="0.5"/>
<polygon points="69.50,441.30 148.35,444.40 227.19,447.30 306.04,468.30 384.88,473.00 463.73,482.70 542.58,473.40 621.42,461.30 700.27,461.70 779.12,458.00 857.96,453.20 936.81,459.80 1015.65,454.00 1094.50,452.90 1094.50,506.30 1015.65,505.00 936.81,508.50 857.96,509.50 779.12,509.80 700.27,502.30 621.42,499.30 542.58,509.50 463.73,510.80 384.88,508.30 306.04,507.30 227.19,470.90 148.35,460.80 69.50,450.20" fill="#32cd32" fill-opacity="0.4"/>
<rect x="69.5" y="558" width="1025.0" height="2" fill="#808080" fill-opacity="0.31"/>
<rect x="69.5" y="515" width="1025.0" height="2" fill="#808080" fill-opacity="0.31"/>
<rect x="69.5" y="472" width="1025.0" height="2" fill="#808080" fill-opacity="0.31"/>
<rect x="69.5" y="429" width="1025.0" height="2" fill="#808080" fill-opacity="0.31"/>
<rect x="226" y="417.5" width="2" height="197.0" fill="#808080" fill-opacity="0.31"/>
<rect x="384" y="417.5" width="2" height="197.0" fill="#808080" fill-opacity="0.31"/>
<rect x="541" y="417.5" width="2" height="197.0" fill="#808080" fill-opacity="0.31"/>
<rect x="699" y="417.5" width="2" height="197.0" fill="#808080" fill-opacity="0.31"/>
<rect x="857" y="417.5" width="2" height="197.0" fill="#808080" fill-opacity="0.31"/>
<rect x="1014" y="417.5" width="2" height="197.0" fill="#808080" fill-opacity="0.31"/>
<rect x="69.5" y="602" width="1025.0" height="1" fill="#333"/>
<rect x="69.5" y="611" width="4.9" height="1" fill="#333"/>
<rect x="69.5" y="594" width="4.9" height="1" fill="#333"/>
<rect x="69.5" y="585" width="4.9" height="1" fill="#333"/>
<rect x="69.5" y="577" width="4.9" height="1" fill="#333"/>
<rect x="69.5" y="568" width="4.9" height="1" fill="#333"/>
<rect x="69.5" y="551" width="4.9" height="1" fill="#333"/>
<rect x="69.5" y="542" width="4.9" height="1" fill="#333"/>
<rect x="69.5" y="534" width="4.9" height="1" fill="#333"/>
<rect x="69.5" y="525" width="4.9" height="1" fill="#333"/>
<rect x="69.5" y="508" width="4.9" height="1" fill="#333"/>
<rect x="69.5" y="499" width="4.9" height="1" fill="#333"/>
<rect x="69.5" y="490" width="4.9" height="1" fill="#333"/>
<rect x="69.5" y="482" width="4.9" height="1" fill="#333"/>
<rect x="69.5" y="465" width="4.9" height="1" fill="#333"/>
<rect x="69.5" y="456" width="4.9" height="1" fill="#333"/>
<rect x="69.5" y="447" width="4.9" height="1" fill="#333"/>
<rect x="69.5" y="439" width="4.9" height="1" fill="#333"/>
<rect x="69.5" y="422" width="4.9" height="1" fill="#333"/>
<polyline points="69.50,516.60 148.35,523.60 227.19,523.80 306.04,537.00 384.88,560.70 463.73,581.10 542.58,585.30 621.42,563.30 700.27,550.20 779.12,543.30 857.96,526.80 936.81,517.90 1015.65,520.70 1094.50,523.50" fill="none" stroke="#1e90ff" stroke-width="5.5" stroke-linejoin="round"/>
<polyline points="69.50,445.80 148.35,453.00 227.19,459.50 306.04,488.10 384.88,490.40 463.73,496.70 542.58,491.40 621.42,480.10 700.27,481.90 779.12,484.50 857.96,481.40 936.81,484.10 1015.65,479.80 1094.50,480.30" fill="none" stroke="#ff0000" stroke-width="5.5" stroke-linejoin="round"/>
</g>
<rect x="69.5" y="417.5" width="1025.0" height="197.0" fill="none" stroke="#222" stroke-width="1"/>
<g class="dv ax" fill="#000">
<text x="52.23" y="610.10" textLength="12.37" lengthAdjust="spacingAndGlyphs">0</text>
<text x="52.23" y="567.00" textLength="12.37" lengthAdjust="spacingAndGlyphs">5</text>
<text x="39.86" y="523.90" textLength="24.74" lengthAdjust="spacingAndGlyphs">10</text>
<text x="39.86" y="480.80" textLength="24.74" lengthAdjust="spacingAndGlyphs">15</text>
<text x="39.86" y="437.70" textLength="24.74" lengthAdjust="spacingAndGlyphs">20</text>
</g>
<rect x="69.5" y="825" width="1025.0" height="2" fill="#808080" fill-opacity="0.31"/>
<rect x="69.5" y="753" width="1025.0" height="2" fill="#808080" fill-opacity="0.31"/>
<rect x="226" y="700.5" width="2" height="197.0" fill="#808080" fill-opacity="0.31"/>
<rect x="384" y="700.5" width="2" height="197.0" fill="#808080" fill-opacity="0.31"/>
<rect x="541" y="700.5" width="2" height="197.0" fill="#808080" fill-opacity="0.31"/>
<rect x="699" y="700.5" width="2" height="197.0" fill="#808080" fill-opacity="0.31"/>
<rect x="857" y="700.5" width="2" height="197.0" fill="#808080" fill-opacity="0.31"/>
<rect x="1014" y="700.5" width="2" height="197.0" fill="#808080" fill-opacity="0.31"/>
<rect x="69.5" y="700.5" width="1025.0" height="197.0" fill="none" stroke="#222" stroke-width="1"/>
<rect x="69.00" y="896.4" width="10.90" height="1.6" fill="#151515"/>
<rect x="137.95" y="896.4" width="20.80" height="1.6" fill="#151515"/>
<rect x="216.79" y="896.4" width="20.80" height="1.6" fill="#151515"/>
<rect x="295.64" y="896.4" width="20.80" height="1.6" fill="#151515"/>
<rect x="374.48" y="896.4" width="20.80" height="1.6" fill="#151515"/>
<rect x="453.33" y="896.4" width="20.80" height="1.6" fill="#151515"/>
<rect x="532.18" y="896.4" width="20.80" height="1.6" fill="#151515"/>
<rect x="611.02" y="896.4" width="20.80" height="1.6" fill="#151515"/>
<rect x="689.87" y="896.4" width="20.80" height="1.6" fill="#151515"/>
<rect x="768.72" y="896.4" width="20.80" height="1.6" fill="#151515"/>
<rect x="847.56" y="896.4" width="20.80" height="1.6" fill="#151515"/>
<rect x="926.41" y="896.4" width="20.80" height="1.6" fill="#151515"/>
<rect x="1005.25" y="896.4" width="20.80" height="1.6" fill="#151515"/>
<rect x="1084.10" y="896.4" width="10.90" height="1.6" fill="#151515"/>
<g class="dv ax" fill="#000">
<text x="21.52" y="761.80" textLength="43.28" lengthAdjust="spacingAndGlyphs">0.04</text>
<text x="21.52" y="833.10" textLength="43.28" lengthAdjust="spacingAndGlyphs">0.02</text>
<text x="21.52" y="892.80" textLength="43.28" lengthAdjust="spacingAndGlyphs">0.00</text>
</g>
<g class="dv">
<text class="dn" x="51.02" y="692.80" fill="#000" textLength="34.36" lengthAdjust="spacingAndGlyphs">sob</text>
<text class="pc" x="50.28" y="926.90" fill="#4fd5e2" textLength="37.44" lengthAdjust="spacingAndGlyphs">0%</text>
<text class="dn" x="130.04" y="692.80" fill="#000" textLength="36.62" lengthAdjust="spacingAndGlyphs">ned</text>
<text class="pc" x="129.22" y="926.90" fill="#4fd5e2" textLength="37.44" lengthAdjust="spacingAndGlyphs">0%</text>
<text class="dn" x="208.92" y="692.80" fill="#000" textLength="36.55" lengthAdjust="spacingAndGlyphs">pon</text>
<text class="pc" x="208.16" y="926.90" fill="#4fd5e2" textLength="37.44" lengthAdjust="spacingAndGlyphs">0%</text>
<text class="dn" x="291.68" y="692.80" fill="#000" textLength="27.51" lengthAdjust="spacingAndGlyphs">tor</text>
<text class="pc" x="279.60" y="926.90" fill="#2f9bd1" textLength="52.45" lengthAdjust="spacingAndGlyphs">10%</text>
<text class="dn" x="369.06" y="692.80" fill="#000" textLength="30.08" lengthAdjust="spacingAndGlyphs">sre</text>
<text class="pc" x="366.04" y="926.90" fill="#4fd5e2" textLength="37.44" lengthAdjust="spacingAndGlyphs">0%</text>
<text class="dn" x="447.80" y="692.80" fill="#000" textLength="30.27" lengthAdjust="spacingAndGlyphs">čet</text>
<text class="pc" x="444.99" y="926.90" fill="#4fd5e2" textLength="37.44" lengthAdjust="spacingAndGlyphs">0%</text>
<text class="dn" x="526.92" y="692.80" fill="#000" textLength="31.92" lengthAdjust="spacingAndGlyphs">pet</text>
<text class="pc" x="523.93" y="926.90" fill="#4fd5e2" textLength="37.44" lengthAdjust="spacingAndGlyphs">5%</text>
<text class="dn" x="604.04" y="692.80" fill="#000" textLength="34.36" lengthAdjust="spacingAndGlyphs">sob</text>
<text class="pc" x="602.87" y="926.90" fill="#4fd5e2" textLength="37.44" lengthAdjust="spacingAndGlyphs">5%</text>
<text class="dn" x="681.96" y="692.80" fill="#000" textLength="36.62" lengthAdjust="spacingAndGlyphs">ned</text>
<text class="pc" x="674.30" y="926.90" fill="#2f9bd1" textLength="52.45" lengthAdjust="spacingAndGlyphs">10%</text>
<text class="dn" x="760.84" y="692.80" fill="#000" textLength="36.55" lengthAdjust="spacingAndGlyphs">pon</text>
<text class="pc" x="753.24" y="926.90" fill="#2f9bd1" textLength="52.45" lengthAdjust="spacingAndGlyphs">25%</text>
<text class="dn" x="843.61" y="692.80" fill="#000" textLength="27.51" lengthAdjust="spacingAndGlyphs">tor</text>
<text class="pc" x="832.18" y="926.90" fill="#2f9bd1" textLength="52.45" lengthAdjust="spacingAndGlyphs">35%</text>
<text class="dn" x="920.98" y="692.80" fill="#000" textLength="30.08" lengthAdjust="spacingAndGlyphs">sre</text>
<text class="pc" x="911.13" y="926.90" fill="#2f9bd1" textLength="52.45" lengthAdjust="spacingAndGlyphs">40%</text>
<text class="dn" x="999.72" y="692.80" fill="#000" textLength="30.27" lengthAdjust="spacingAndGlyphs">čet</text>
<text class="pc" x="990.07" y="926.90" fill="#2f9bd1" textLength="52.45" lengthAdjust="spacingAndGlyphs">35%</text>
<text class="dn" x="1078.84" y="692.80" fill="#000" textLength="31.92" lengthAdjust="spacingAndGlyphs">pet</text>
<text class="pc" x="1069.01" y="926.90" fill="#2f9bd1" textLength="52.45" lengthAdjust="spacingAndGlyphs">30%</text>
</g>
<g style="will-change:transform">
<text x="9.40" y="21.60" font-family="Liberation Sans, sans-serif" font-size="16.00" fill="#0000ff" textLength="205.59" lengthAdjust="spacingAndGlyphs" >(kraj lahko izberete v meniju)</text>
<text x="861.29" y="21.60" font-family="Liberation Sans, sans-serif" font-size="16.00" fill="#0000ff" textLength="281.48" lengthAdjust="spacingAndGlyphs" >Zadnja posodobitev: 11.10.2025 - 04:24</text>
<text x="398.16" y="39.00" font-family="Liberation Sans, sans-serif" font-size="26.67" fill="#0000ff" textLength="191.28" lengthAdjust="spacingAndGlyphs" >Ljubljana 14 dni</text>
<text x="488.16" y="407.60" font-family="Liberation Sans, sans-serif" font-size="24.00" fill="#000" textLength="184.02" lengthAdjust="spacingAndGlyphs" >Temperatura (°C)</text>
<text x="338.65" y="667.60" font-family="Liberation Sans, sans-serif" font-size="24.00" fill="#000" textLength="479.23" lengthAdjust="spacingAndGlyphs" >Količina padavin (mm) / Možnost padavin (%)</text>
<text x="749.61" y="483.70" font-family="Liberation Sans, sans-serif" font-size="19.20" fill="#0000ff" textLength="209.20" lengthAdjust="spacingAndGlyphs" stroke="#0000ff" stroke-width="0.2">© vreme.us &amp; vreme.pro</text>
</g>
</svg>
</body>
</html>
